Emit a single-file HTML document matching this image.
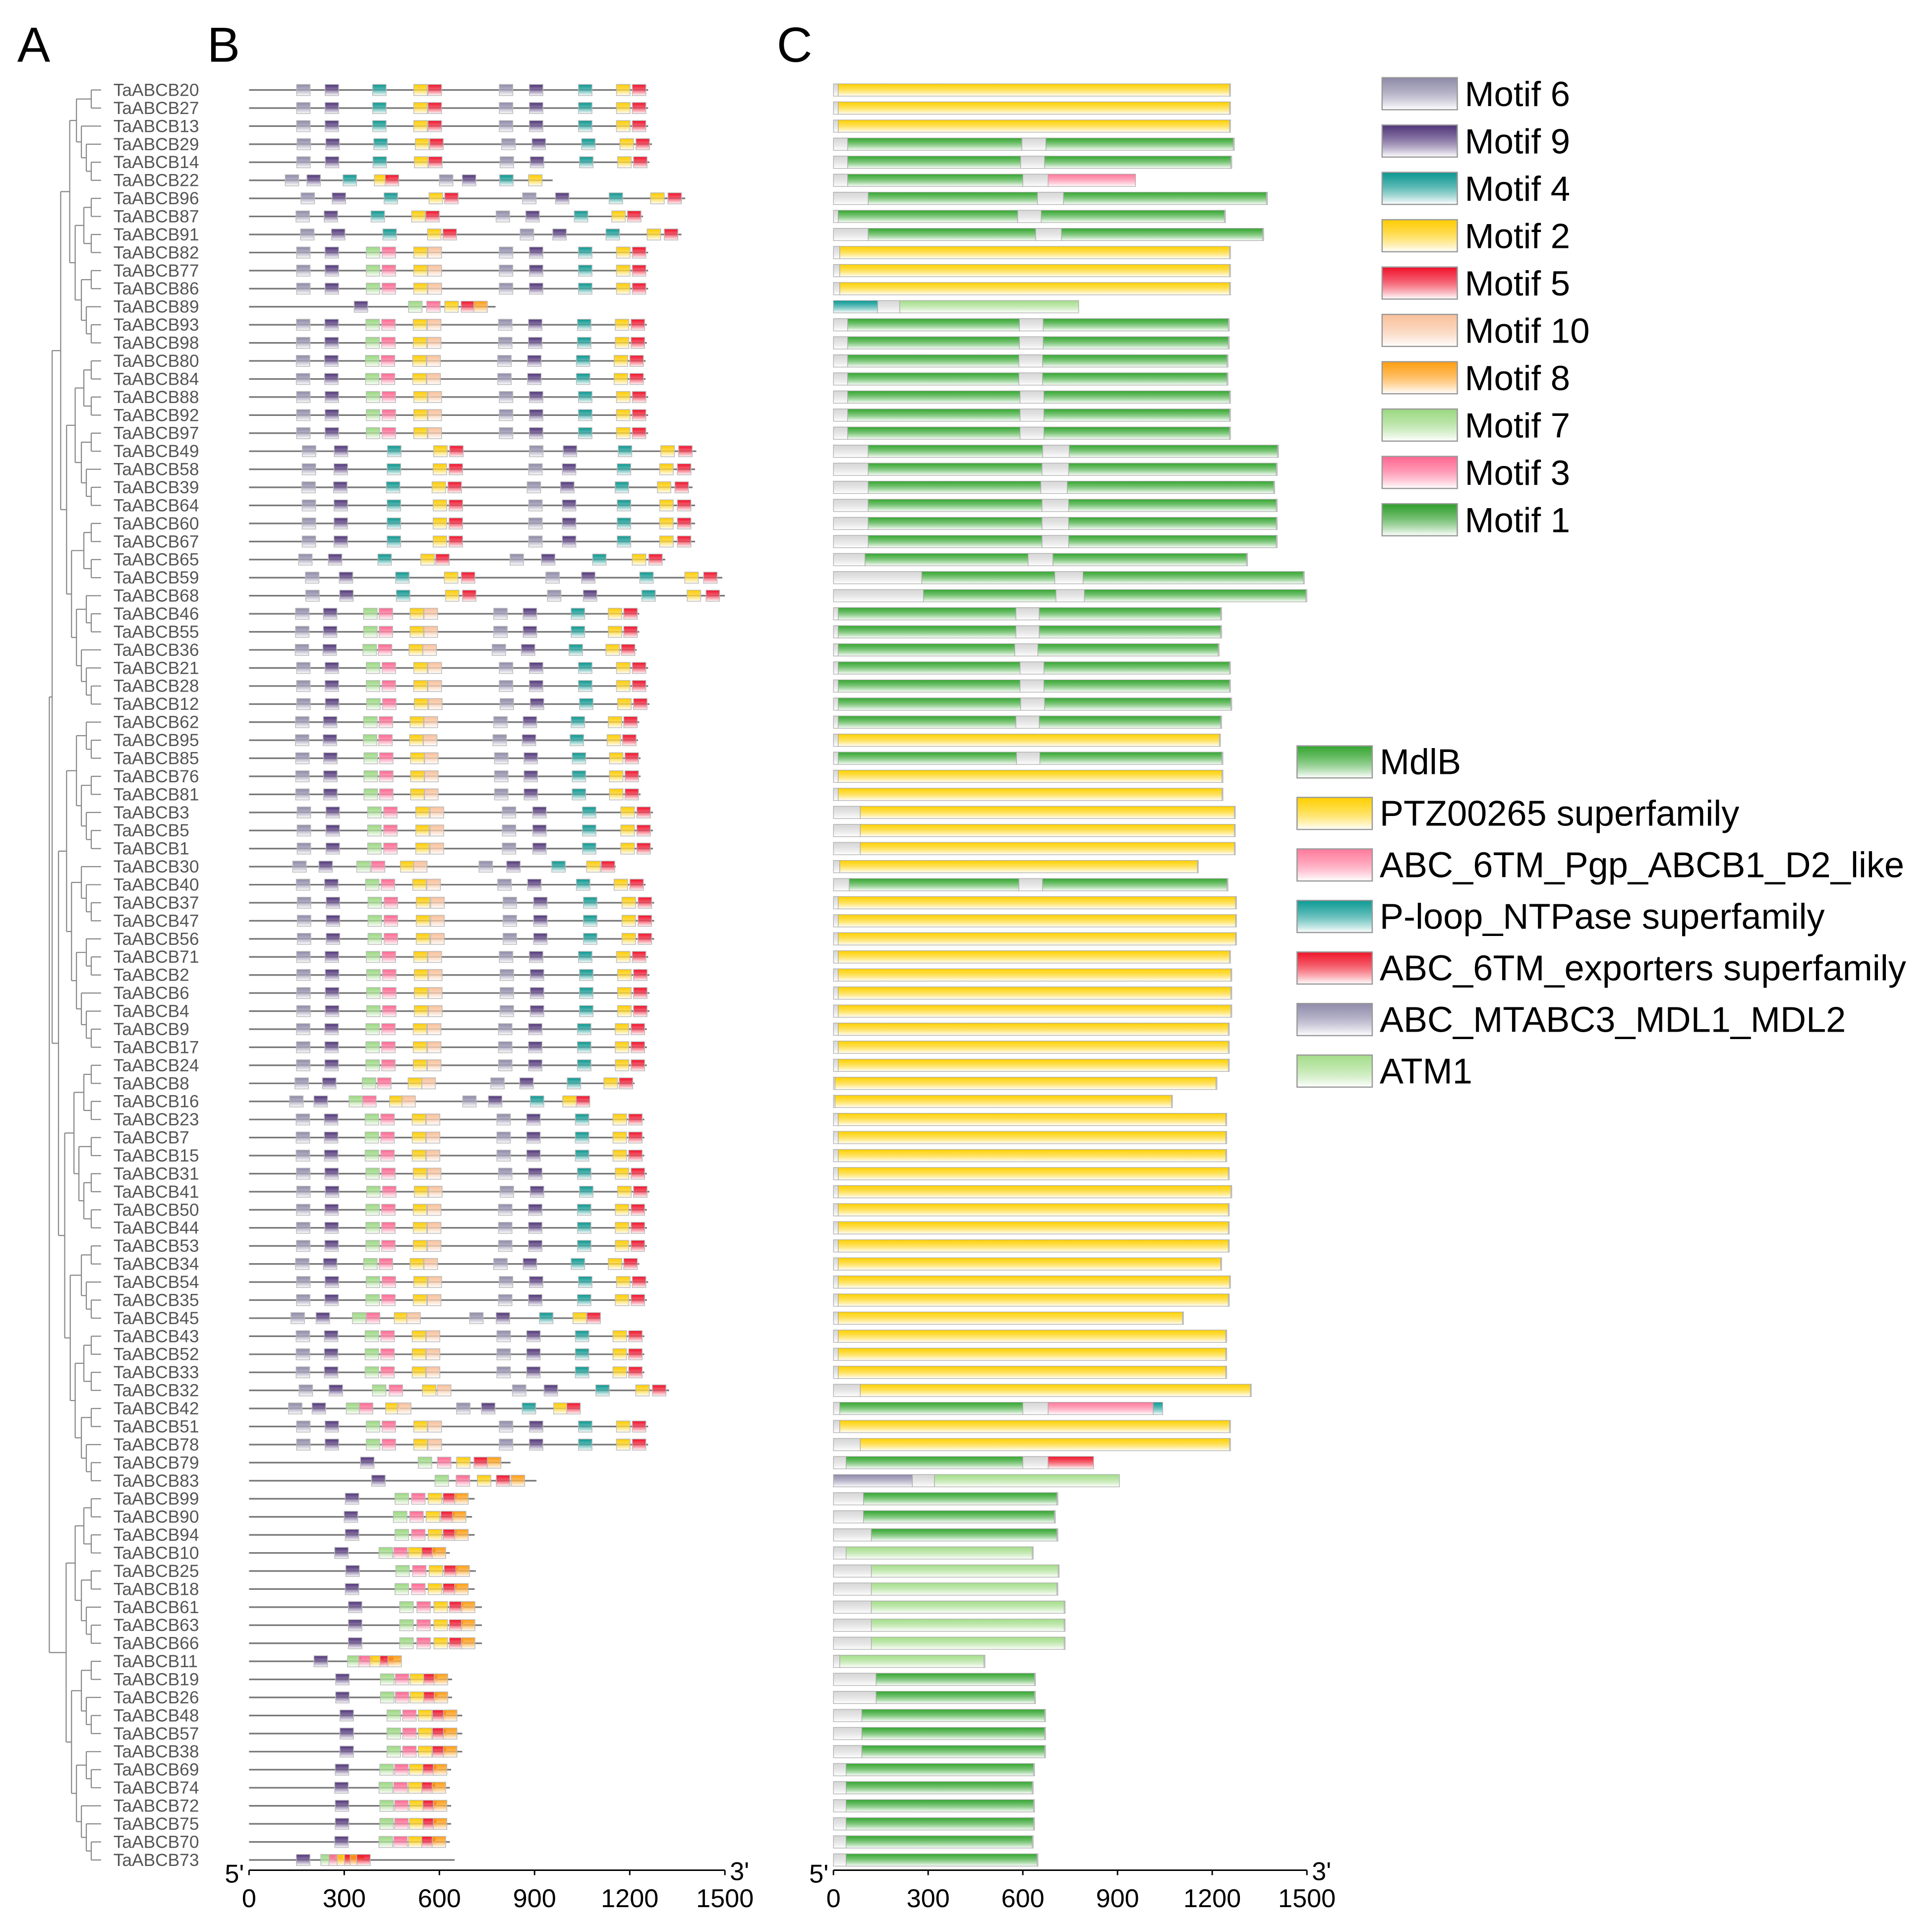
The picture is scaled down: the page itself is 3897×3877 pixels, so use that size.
<!DOCTYPE html>
<html><head><meta charset="utf-8"><style>
html,body{margin:0;padding:0;background:#fff}
svg{display:block}
text{font-family:"Liberation Sans",Arial,sans-serif}
</style></head><body>
<svg id="fig" xmlns="http://www.w3.org/2000/svg" width="3897" height="3877" viewBox="0 0 1567 1559" preserveAspectRatio="none">
<defs id="defs"></defs>
<g id="tree"></g>
<g id="labels"></g>
<g id="motifs"></g>
<g id="domains"></g>
<g id="axes"></g>
<g id="legends"></g>
<text x="14" y="50" font-size="40">A</text>
<text x="168" y="50" font-size="40">B</text>
<text x="630" y="50" font-size="40">C</text>
</svg>
<script>
const genes=["TaABCB20","TaABCB27","TaABCB13","TaABCB29","TaABCB14","TaABCB22","TaABCB96","TaABCB87","TaABCB91","TaABCB82","TaABCB77","TaABCB86","TaABCB89","TaABCB93","TaABCB98","TaABCB80","TaABCB84","TaABCB88","TaABCB92","TaABCB97","TaABCB49","TaABCB58","TaABCB39","TaABCB64","TaABCB60","TaABCB67","TaABCB65","TaABCB59","TaABCB68","TaABCB46","TaABCB55","TaABCB36","TaABCB21","TaABCB28","TaABCB12","TaABCB62","TaABCB95","TaABCB85","TaABCB76","TaABCB81","TaABCB3","TaABCB5","TaABCB1","TaABCB30","TaABCB40","TaABCB37","TaABCB47","TaABCB56","TaABCB71","TaABCB2","TaABCB6","TaABCB4","TaABCB9","TaABCB17","TaABCB24","TaABCB8","TaABCB16","TaABCB23","TaABCB7","TaABCB15","TaABCB31","TaABCB41","TaABCB50","TaABCB44","TaABCB53","TaABCB34","TaABCB54","TaABCB35","TaABCB45","TaABCB43","TaABCB52","TaABCB33","TaABCB32","TaABCB42","TaABCB51","TaABCB78","TaABCB79","TaABCB83","TaABCB99","TaABCB90","TaABCB94","TaABCB10","TaABCB25","TaABCB18","TaABCB61","TaABCB63","TaABCB66","TaABCB11","TaABCB19","TaABCB26","TaABCB48","TaABCB57","TaABCB38","TaABCB69","TaABCB74","TaABCB72","TaABCB75","TaABCB70","TaABCB73"];
const lens=[1258,1258,1258,1270,1262,957,1375,1242,1363,1258,1258,1258,777,1254,1254,1250,1250,1258,1258,1258,1410,1406,1398,1406,1406,1406,1312,1492,1500,1230,1230,1222,1258,1258,1262,1230,1226,1234,1234,1234,1273,1273,1273,1156,1250,1277,1277,1277,1258,1262,1262,1262,1254,1254,1254,1215,1074,1246,1246,1246,1254,1262,1254,1254,1254,1230,1258,1254,1109,1246,1246,1246,1324,1043,1258,1258,824,906,711,703,711,633,715,711,734,734,734,480,640,640,672,672,672,637,633,637,637,633,648];
const ctype="yyyggggggyyytgggggggggggggggggggggggygyyyyyygyyyyyyyyyyyyyyyyyyyyyyyyyyyygyygmggglllllllgggggggggggg";
const cStart=[15,15,15,45,45,45,110,15,110,20,20,20,0,45,45,45,45,45,45,45,110,110,110,110,110,110,100,280,285,15,15,15,15,15,15,15,15,15,15,15,85,85,85,20,50,15,15,15,15,15,15,15,15,15,15,5,5,15,15,15,15,15,15,15,15,15,15,15,15,15,15,15,85,20,20,85,40,0,95,95,120,40,120,120,120,120,120,20,135,135,90,90,90,40,40,40,40,40,40];
const variant="aaaaaaaaabbbhbbbbbbbaaaaaaaaabbbbbbbbbbbbbbbbbbbbbbbbbbbbbbbbbbbbbbbbbbbbbbbhhhhhhhhhhhhhhhhhhhhhh";
const tplA=[[6,150],[9,240],[4,390],[2,520],[5,565],[6,790],[9,885],[4,1040],[2,1160],[5,1210]];
const tplB=[[6,150],[9,240],[7,370],[3,420],[2,520],[10,565],[6,790],[9,885],[4,1040],[2,1160],[5,1210]];
const tplH=[[9,290],[7,440],[3,490],[2,540],[5,585],[8,620],[5,660]];
const motifNames=["Motif 6","Motif 9","Motif 4","Motif 2","Motif 5","Motif 10","Motif 8","Motif 7","Motif 3","Motif 1"];
const motifIds=[6,9,4,2,5,10,8,7,3,1];
const motifCol={6:"#8e8aa8",9:"#4f3478",4:"#0a968f",2:"#ffcc00",5:"#f0102a",10:"#f8c09a",8:"#ff9c10",7:"#9ad880",3:"#ff6690",1:"#2e9e2a"};
const domNames=["MdlB","PTZ00265 superfamily","ABC_6TM_Pgp_ABCB1_D2_like","P-loop_NTPase superfamily","ABC_6TM_exporters superfamily","ABC_MTABC3_MDL1_MDL2","ATM1"];
const domKeys=["g","y","p","t","r","m","l"];
const domCol={g:"#34a630",y:"#ffd000",p:"#ff7a9c",t:"#0d9a94",r:"#f01428",m:"#8f8bab",l:"#a4dd8a",e:"#d6d6d6"};
const ticks=[0,300,600,900,1200,1500];

const NS="http://www.w3.org/2000/svg";
function mk(tag,attrs,parent){const e=document.createElementNS(NS,tag);for(const k in attrs)e.setAttribute(k,attrs[k]);parent.appendChild(e);return e;}
const defs=document.getElementById('defs');
function grad(id,c){const g=mk('linearGradient',{id:id,x1:0,y1:0,x2:0,y2:1},defs);mk('stop',{offset:'0',"stop-color":c},g);mk('stop',{offset:'0.35',"stop-color":c,"stop-opacity":0.75},g);mk('stop',{offset:'1',"stop-color":"#ffffff"},g);}
for(const k in motifCol)grad('m'+k,motifCol[k]);
for(const k in domCol)grad('d'+k,domCol[k]);

const y0=73,dy=14.65;
const rowY=i=>y0+i*dy;
const bx=v=>202+v*0.2573;
const cx=v=>676+v*0.256;

const lab=document.getElementById('labels');
genes.forEach((g,i)=>{const t=mk('text',{x:92,y:rowY(i)+4.8,"font-size":14.2,fill:"#555"},lab);t.textContent=g;

});

const tree=document.getElementById('tree');
function build(lo,hi){
  const n=hi-lo+1;
  if(n===1){return {y:rowY(lo),x:82};}
  let mid=lo+Math.max(0,Math.floor(n*0.45)-1);
  if(n>3&&((lo+hi)%3===0))mid=lo+Math.floor(n*0.3);
  const a=build(lo,mid),b=build(mid+1,hi);
  const x=Math.max(42,82-6*Math.log2(n)-2);
  const nx=Math.min(x,Math.min(a.x,b.x)-4);
  mk('line',{x1:nx,y1:a.y,x2:a.x,y2:a.y,stroke:"#888","stroke-width":0.9},tree);
  mk('line',{x1:nx,y1:b.y,x2:b.x,y2:b.y,stroke:"#888","stroke-width":0.9},tree);
  mk('line',{x1:nx,y1:a.y,x2:nx,y2:b.y,stroke:"#888","stroke-width":0.9},tree);
  return {y:(a.y+b.y)/2,x:nx};
}
const r1=build(0,77),r2=build(78,98);
mk('line',{x1:40,y1:r1.y,x2:r1.x,y2:r1.y,stroke:"#888","stroke-width":0.9},tree);
mk('line',{x1:40,y1:r2.y,x2:r2.x,y2:r2.y,stroke:"#888","stroke-width":0.9},tree);
mk('line',{x1:40,y1:r1.y,x2:40,y2:r2.y,stroke:"#888","stroke-width":0.9},tree);

const mg=document.getElementById('motifs');
genes.forEach((g,i)=>{const L=lens[i],y=rowY(i);
  const ln=mk('line',{x1:bx(0),y1:y,x2:bx(L),y2:y,stroke:"#777","stroke-width":1.3},mg);
  
  
  const tpl=variant[i]==='a'?tplA:variant[i]==='b'?tplB:tplH;
  const ref=variant[i]==='h'?680:1260;
  tpl.forEach(([m,p])=>{const pos=p*L/ref;if(pos+40>L)return;
    const r=mk('rect',{x:bx(pos),y:y-4.5,width:11,height:9,fill:"url(#m"+m+")",stroke:"#bbb","stroke-width":0.6},mg);
    
    });
});

const dg=document.getElementById('domains');
function seg(a,b,k,y){const r=mk('rect',{x:cx(a),y:y-5,width:Math.max(0,cx(b)-cx(a)),height:10,fill:"url(#d"+k+")",stroke:"#aaa","stroke-width":0.5},dg);
  
  }
genes.forEach((g,i)=>{const L=lens[i],y=rowY(i),s=cStart[i],t=ctype[i];
  if(s>0)seg(0,s,'e',y);
  if(t==='y'){seg(s,L-3,'y',y);seg(L-3,L,'e',y);}
  else if(t==='l'){seg(s,L-3,'l',y);seg(L-3,L,'e',y);}
  else if(t==='t'){seg(0,140,'t',y);seg(140,210,'e',y);seg(210,L,'l',y);}
  else if(t==='m'){seg(0,250,'m',y);seg(250,320,'e',y);seg(320,L,'l',y);}
  else{
    if(i===5){seg(s,600,'g',y);seg(600,680,'e',y);seg(680,L,'p',y);}
    else if(i===73){seg(s,600,'g',y);seg(600,680,'e',y);seg(680,L-30,'p',y);seg(L-30,L,'t',y);}
    else if(i===76){seg(s,600,'g',y);seg(600,680,'e',y);seg(680,L,'r',y);}
    else if(L>1000){const a=L*0.47,b=L*0.53;seg(s,a,'g',y);seg(a,b,'e',y);seg(b,L-3,'g',y);seg(L-3,L,'e',y);}
    else {seg(s,L-3,'g',y);seg(L-3,L,'e',y);}
  }
});

const ax=document.getElementById('axes');
function axis(f,name){const g=mk('g',{},ax);
  mk('line',{x1:f(0),y1:1517,x2:f(1500),y2:1517,stroke:"#000","stroke-width":1.2},g);
  ticks.forEach(v=>{mk('line',{x1:f(v),y1:1517,x2:f(v),y2:1521,stroke:"#000","stroke-width":1.2},g);
    const t=mk('text',{x:f(v),y:1547,"font-size":21,"text-anchor":"middle"},g);t.textContent=v;
    
    });
  const a=mk('text',{x:f(0)-4,y:1527,"font-size":21,"text-anchor":"end"},g);a.textContent="5'";
  const b=mk('text',{x:f(1500)+4,y:1525,"font-size":21},g);b.textContent="3'";
}
axis(bx,'motif-axis');axis(cx,'domain-axis');

const lg=document.getElementById('legends');
motifIds.forEach((m,i)=>{const y=76+i*38.4;const g=mk('g',{},lg);
  
  
  mk('rect',{x:1121,y:y-13,width:61,height:26,fill:"url(#m"+m+")",stroke:"#999","stroke-width":1},g);
  const t=mk('text',{x:1188,y:y+10,"font-size":28.5},g);t.textContent=motifNames[i];});
domKeys.forEach((k,i)=>{const y=618+i*41.8;const g=mk('g',{},lg);
  
  
  mk('rect',{x:1052,y:y-13,width:61,height:26,fill:"url(#d"+k+")",stroke:"#999","stroke-width":1},g);
  const t=mk('text',{x:1119,y:y+10,"font-size":29},g);t.textContent=domNames[i];});
</script>
</body></html>
